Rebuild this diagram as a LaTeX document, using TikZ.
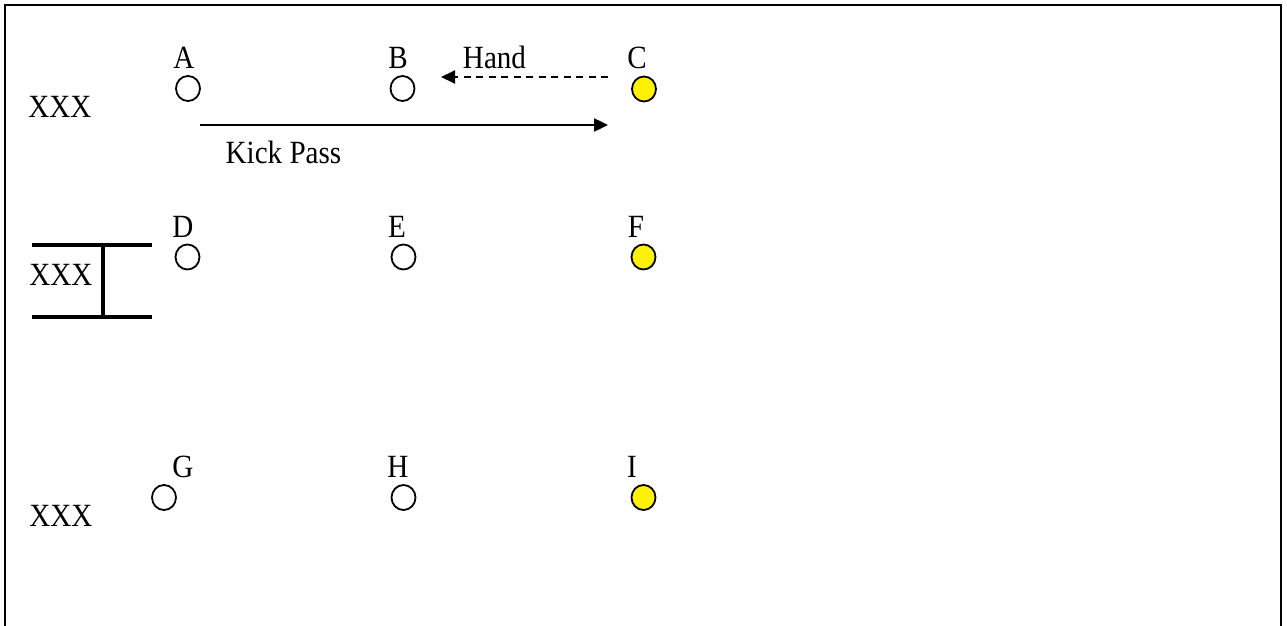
\documentclass[tikz,border=0pt]{standalone}
\usepackage{fontspec}
\setmainfont{Liberation Serif}
\usetikzlibrary{arrows.meta,shapes.geometric}
\newcommand{\tallx}[1]{\scalebox{0.97}[1.08]{#1}}
\begin{document}
\begin{tikzpicture}[x=1pt,y=-1pt,
  lbl/.style={anchor=base,inner sep=0pt,font=\fontsize{30}{34}\selectfont},
  player/.style={ellipse,draw=black,line width=1.8pt,minimum width=24pt,minimum height=25pt,inner sep=0pt,fill=white},
  star/.style={player,fill=yellow},
  pass/.style={line width=2.4pt,-{Triangle[length=14pt,width=13pt]}},
  handpass/.style={pass,line width=2pt,dash pattern=on 7pt off 5.5pt}]
\useasboundingbox (0,0) rectangle (1287,626);
% frame (open at bottom)
\draw[line width=2.2pt] (5,626) -- (5,5) -- (1281,5) -- (1281,626);
% labels
\node[lbl] (xa) at (60,117) {\tallx{XXX}};
\node[lbl] (xb) at (61,285) {\tallx{XXX}};
\node[lbl] (xc) at (61,526) {\tallx{XXX}};
\node[lbl] (la) at (184,68) {\tallx{A}};
\node[lbl] (lb) at (398,68) {\tallx{B}};
\node[lbl] (lc) at (637,68) {\tallx{C}};
\node[lbl] (hand) at (494.5,68) {\tallx{Hand}};
\node[lbl] (kick) at (283.5,163) {\tallx{Kick Pass}};
\node[lbl] (ld) at (183,237) {\tallx{D}};
\node[lbl] (le) at (397,237) {\tallx{E}};
\node[lbl] (lf) at (636,237) {\tallx{F}};
\node[lbl] (lg) at (183,477) {\tallx{G}};
\node[lbl] (lh) at (398,477) {\tallx{H}};
\node[lbl] (li) at (632,477) {\tallx{I}};
% players
\node[player] (A) at (188,88.5) {};
\node[player] (B) at (402.5,88.5) {};
\node[star] (C) at (644,89) {};
\node[player] (D) at (187.5,257) {};
\node[player] (E) at (403.5,257) {};
\node[star] (F) at (643.5,257) {};
\node[player] (G) at (164,497.5) {};
\node[player] (H) at (403.5,497.5) {};
\node[star] (I) at (643.5,497.5) {};
% passes
\coordinate (hs) at (608,77);
\coordinate (he) at (441,77);
\draw[handpass] (hs) -- (he);
\coordinate (ks) at (200,125);
\coordinate (ke) at (608,125);
\draw[pass] (ks) -- (ke);
% I-beam
\coordinate (t1) at (32,245);
\coordinate (t2) at (152,245);
\coordinate (b1) at (32,317);
\coordinate (b2) at (152,317);
\coordinate (vt) at (103,245);
\coordinate (vb) at (103,317);
\draw[line width=3.5pt] (t1) -- (t2) (b1) -- (b2) (vt) -- (vb);
\end{tikzpicture}
\end{document}
